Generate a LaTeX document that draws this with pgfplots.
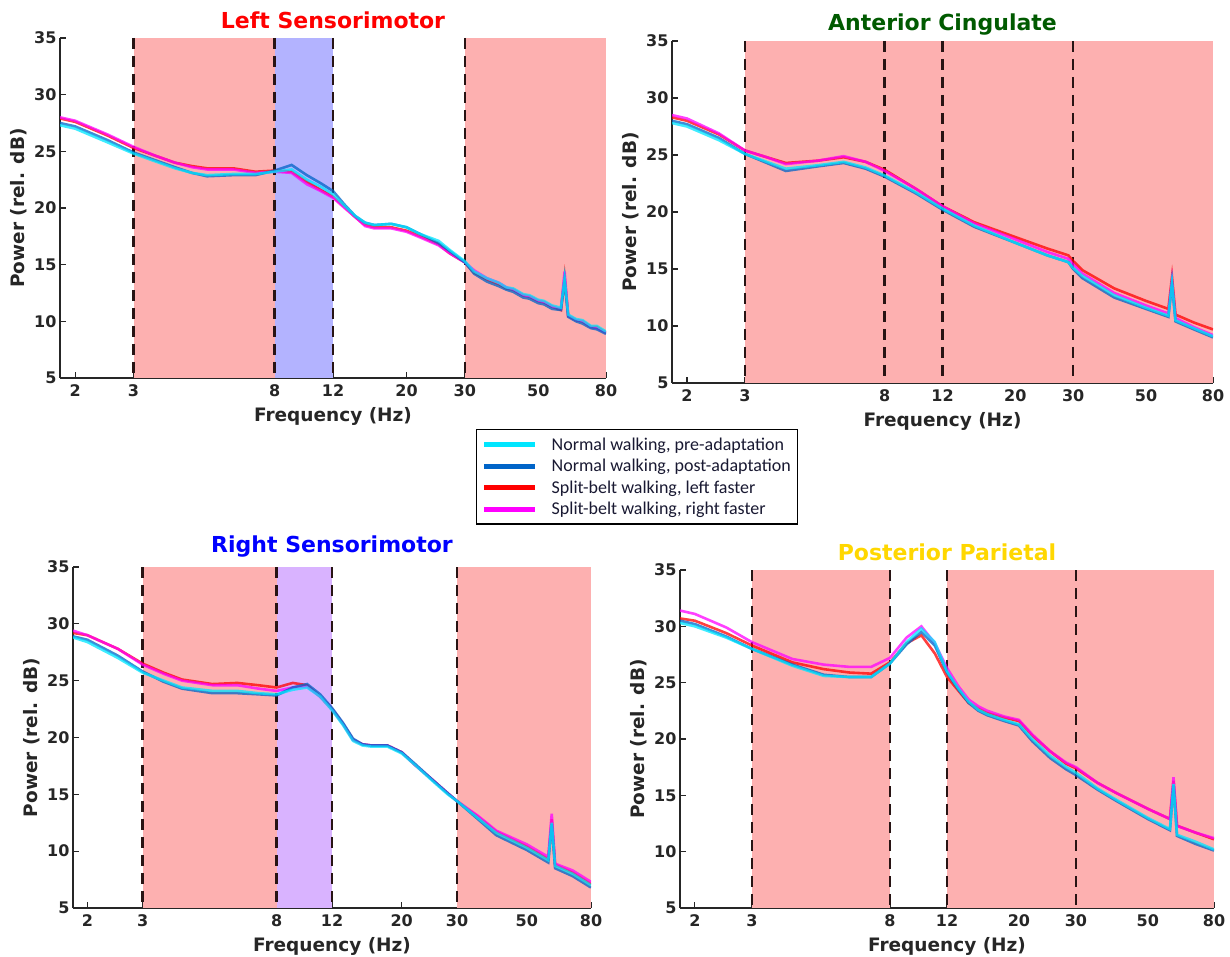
\documentclass[border=0pt]{standalone}
\usepackage{fontspec}
\setmainfont{DejaVu Sans}
\newfontfamily\legfont{Carlito}
\usepackage{pgfplots}
\usepackage{pgfplotstable}
\pgfplotsset{compat=1.18}

\definecolor{shred}{RGB}{253,176,176}
\definecolor{shblue}{RGB}{179,179,255}
\definecolor{shpurple}{RGB}{217,179,255}
\definecolor{axgray}{RGB}{38,38,38}
\definecolor{dashcol}{RGB}{40,20,20}
\definecolor{lcyan}{RGB}{0,230,255}
\definecolor{lblue}{RGB}{0,100,200}
\definecolor{lred}{RGB}{255,0,0}
\definecolor{lmag}{RGB}{255,0,255}
\definecolor{tred}{RGB}{255,0,0}
\definecolor{tgreen}{RGB}{0,90,0}
\definecolor{tblue}{RGB}{0,0,255}
\definecolor{tgold}{RGB}{255,215,0}
\definecolor{legtext}{RGB}{25,25,50}

\pgfplotstableread{
f c b r m
1.8 27.3 27.5 27.9 28.0
2.0 27.0 27.2 27.6 27.7
2.5 25.8 26.0 26.4 26.5
3.0 24.8 24.9 25.3 25.4
3.5 24.1 24.2 24.6 24.6
4.0 23.5 23.6 24.0 24.0
4.5 23.1 23.1 23.7 23.6
5.0 22.9 22.8 23.5 23.4
6.0 23.0 22.9 23.5 23.4
7.0 23.0 22.9 23.2 23.1
8.0 23.2 23.3 23.3 23.2
9.0 23.4 23.8 23.2 23.1
10.0 22.5 22.9 22.3 22.1
11.0 21.9 22.2 21.6 21.5
12.0 21.2 21.5 21.0 20.9
13.0 20.2 20.3 20.1 20.0
14.0 19.3 19.3 19.2 19.2
15.0 18.7 18.7 18.5 18.4
16.0 18.5 18.5 18.3 18.2
18.0 18.6 18.6 18.3 18.2
20.0 18.3 18.3 18.0 17.9
22.0 17.7 17.7 17.5 17.4
25.0 17.1 16.9 16.8 16.7
27.0 16.3 16.2 16.0 16.0
30.0 15.3 15.2 15.2 15.2
32.0 14.4 14.2 14.3 14.5
35.0 13.8 13.5 13.7 13.8
38.0 13.4 13.1 13.3 13.4
40.0 13.0 12.8 12.9 13.0
42.0 12.9 12.6 12.8 12.8
45.0 12.4 12.1 12.3 12.3
47.0 12.3 12.0 12.2 12.2
50.0 11.9 11.6 11.8 11.8
52.0 11.8 11.5 11.7 11.7
55.0 11.4 11.1 11.3 11.3
58.5 11.2 11.0 11.0 11.1
60.0 13.8 13.6 13.9 14.4
61.5 10.6 10.4 10.5 10.5
65.0 10.2 10.0 10.1 10.1
68.0 10.1 9.8 10.0 10.0
72.0 9.6 9.4 9.5 9.5
75.0 9.6 9.3 9.5 9.4
80.0 9.1 8.9 9.0 9.0
}\tLS

\pgfplotstableread{
f c b r m
1.8 27.8 28.0 28.3 28.5
2.0 27.5 27.7 28.0 28.2
2.5 26.3 26.5 26.8 26.9
3.0 25.1 25.1 25.4 25.4
3.5 24.4 24.3 24.8 24.8
4.0 23.8 23.6 24.3 24.2
5.0 24.1 24.0 24.5 24.5
6.0 24.4 24.3 24.8 24.9
7.0 23.9 23.8 24.4 24.4
8.0 23.2 23.1 23.7 23.6
10.0 21.7 21.6 22.0 22.0
12.0 20.3 20.2 20.5 20.5
15.0 18.8 18.7 19.1 19.0
20.0 17.3 17.3 17.8 17.6
25.0 16.2 16.2 16.8 16.5
29.0 15.6 15.6 16.2 15.9
30.0 15.1 15.0 15.7 15.4
32.0 14.4 14.2 14.9 14.6
40.0 12.7 12.5 13.3 12.9
50.0 11.6 11.5 12.2 11.8
58.5 10.9 10.8 11.5 11.1
60.0 13.8 13.7 14.3 14.0
61.5 10.5 10.4 11.0 10.7
70.0 9.8 9.7 10.3 9.9
80.0 9.1 9.0 9.7 9.2
}\tAC

\pgfplotstableread{
f c b r m
1.8 28.8 28.9 29.2 29.4
2.0 28.4 28.6 29.0 29.0
2.5 27.0 27.2 27.8 27.8
3.0 25.7 25.8 26.5 26.4
3.5 25.0 24.9 25.7 25.6
4.0 24.4 24.3 25.1 25.0
5.0 24.1 23.9 24.7 24.6
6.0 24.1 23.9 24.8 24.6
7.0 23.9 23.8 24.6 24.3
8.0 23.8 23.7 24.4 24.1
9.0 24.2 24.4 24.8 24.4
10.0 24.4 24.7 24.6 24.5
11.0 23.6 23.8 23.6 23.6
12.0 22.4 22.6 22.5 22.5
13.0 21.1 21.3 21.2 21.2
14.0 19.7 19.9 19.8 19.8
15.0 19.3 19.4 19.4 19.4
16.0 19.2 19.3 19.3 19.3
18.0 19.2 19.3 19.3 19.3
20.0 18.6 18.7 18.7 18.7
22.0 17.6 17.7 17.6 17.6
25.0 16.2 16.3 16.3 16.3
28.0 15.0 15.1 15.1 15.1
30.0 14.4 14.4 14.4 14.4
35.0 12.9 12.8 13.0 13.1
40.0 11.6 11.4 11.7 11.8
50.0 10.3 10.1 10.4 10.6
58.5 9.2 9.0 9.3 9.5
60.0 12.5 12.4 12.8 13.3
61.5 8.7 8.5 8.8 8.9
70.0 8.0 7.8 8.1 8.3
80.0 7.0 6.8 7.1 7.3
}\tRS

\pgfplotstableread{
f c b r m
1.8 30.3 30.5 30.7 31.4
2.0 30.0 30.2 30.5 31.1
2.5 29.0 29.1 29.4 29.9
3.0 28.0 28.0 28.3 28.6
4.0 26.5 26.6 26.8 27.1
5.0 25.6 25.7 26.2 26.6
6.0 25.5 25.5 25.9 26.4
7.0 25.5 25.5 25.8 26.4
8.0 26.7 26.7 26.8 27.2
9.0 28.6 28.4 28.5 29.0
10.0 29.8 29.5 29.2 30.0
11.0 28.6 28.3 27.6 28.5
12.0 26.0 25.9 25.5 26.3
13.0 24.5 24.4 24.3 24.7
14.0 23.3 23.2 23.2 23.5
15.0 22.6 22.5 22.7 22.9
16.0 22.2 22.1 22.3 22.5
18.0 21.7 21.6 21.9 22.0
20.0 21.3 21.2 21.6 21.7
22.0 20.0 19.8 20.3 20.4
25.0 18.5 18.3 18.9 18.9
28.0 17.5 17.3 17.8 17.9
30.0 17.0 16.8 17.4 17.5
35.0 15.6 15.5 16.1 16.1
40.0 14.6 14.5 15.2 15.2
50.0 13.0 12.9 13.8 13.8
58.5 12.0 11.9 12.9 12.9
60.0 16.0 15.9 16.3 16.6
61.5 11.5 11.4 12.3 12.3
70.0 10.9 10.7 11.7 11.7
80.0 10.2 10.1 11.1 11.2
}\tPP

\pgfplotsset{
  every axis/.append style={
    scale only axis, xmode=log, xmin=1.8, xmax=80, ymin=5, ymax=35,
    axis lines=left, axis line style={-, draw=axgray, line width=1.6pt},
    tick align=inside, major tick length=6pt,
    major tick style={draw=axgray, line width=1.2pt},
    minor tick style={draw=none},
    xtick={2,3,8,12,20,30,50,80}, xticklabels={2,3,8,12,20,30,50,80},
    ytick={5,10,15,20,25,30,35}, yticklabels={5,10,15,20,25,30,35},
    ticklabel style={font=\bfseries\fontsize{16}{18}\selectfont, text=axgray},
    xticklabel style={yshift=-3pt},
    xlabel={Frequency (Hz)}, ylabel={Power (rel. dB)},
    label style={font=\bfseries\fontsize{18.5}{20}\selectfont, text=axgray},
    xlabel style={yshift=-4pt},
    title style={font=\bfseries\fontsize{22}{24}\selectfont},
    legend image code/.code={\draw[##1] (0pt,0pt) -- (51pt,0pt);},
  },
}

\newcommand\drawseries[1]{%
  \addplot[draw=lred, line width=2.6pt, opacity=0.75, forget plot] table[x=f,y=r] {#1};
  \addplot[draw=lmag, line width=2.6pt, opacity=0.75, forget plot] table[x=f,y=m] {#1};
  \addplot[draw=lblue, line width=2.6pt, opacity=0.75, forget plot] table[x=f,y=b] {#1};
  \addplot[draw=lcyan, line width=2.6pt, opacity=0.75, forget plot] table[x=f,y=c] {#1};
}
\newcommand\bandedge[1]{\addplot[draw=dashcol, line width=2.6pt, dash pattern=on 11pt off 7pt, forget plot] coordinates {(#1,35) (#1,5)};}
\newcommand\band[3]{\addplot[fill=#3, draw=none, forget plot] coordinates {(#1,5) (#1,35) (#2,35) (#2,5)};}

\begin{document}
\begin{tikzpicture}
\useasboundingbox (0,0) rectangle (1230pt,956pt);

% Left Sensorimotor
\begin{axis}[at={(60pt,578pt)}, anchor=south west, width=546pt, height=340pt,
  title={\color{tred}Left Sensorimotor},
  legend style={at={(0.762,-0.15)}, anchor=north west, draw=black, line width=1.3pt,
    font=\legfont\fontsize{18}{20}\selectfont, text=legtext, inner xsep=5pt, inner ysep=6pt,
    row sep=3.5pt, /tikz/every odd column/.append style={column sep=12pt}},
  legend cell align=left]
  \band{3}{8}{shred}
  \band{8}{12}{shblue}
  \band{30}{80}{shred}
  \bandedge{3}\bandedge{8}\bandedge{12}\bandedge{30}
  \drawseries{\tLS}
  \addlegendimage{draw=lcyan, line width=5pt}
  \addlegendentry{Normal walking, pre-adaptation}
  \addlegendimage{draw=lblue, line width=5pt}
  \addlegendentry{Normal walking, post-adaptation}
  \addlegendimage{draw=lred, line width=5pt}
  \addlegendentry{Split-belt walking, left faster}
  \addlegendimage{draw=lmag, line width=5pt}
  \addlegendentry{Split-belt walking, right faster}
\end{axis}

% Anterior Cingulate
\begin{axis}[at={(672pt,573pt)}, anchor=south west, width=541pt, height=342pt,
  title={\color{tgreen}Anterior Cingulate}, title style={yshift=-4pt}]
  \band{3}{80}{shred}
  \bandedge{3}\bandedge{8}\bandedge{12}\bandedge{30}
  \drawseries{\tAC}
\end{axis}

% Right Sensorimotor
\begin{axis}[at={(73pt,48pt)}, anchor=south west, width=518pt, height=341pt,
  title={\color{tblue}Right Sensorimotor}]
  \band{3}{8}{shred}
  \band{8}{12}{shpurple}
  \band{30}{80}{shred}
  \bandedge{3}\bandedge{8}\bandedge{12}\bandedge{30}
  \drawseries{\tRS}
\end{axis}

% Posterior Parietal
\begin{axis}[at={(680pt,48pt)}, anchor=south west, width=534pt, height=338pt,
  title={\color{tgold}Posterior Parietal}]
  \band{3}{8}{shred}
  \band{12}{80}{shred}
  \bandedge{3}\bandedge{8}\bandedge{12}\bandedge{30}
  \drawseries{\tPP}
\end{axis}
\end{tikzpicture}
\end{document}
